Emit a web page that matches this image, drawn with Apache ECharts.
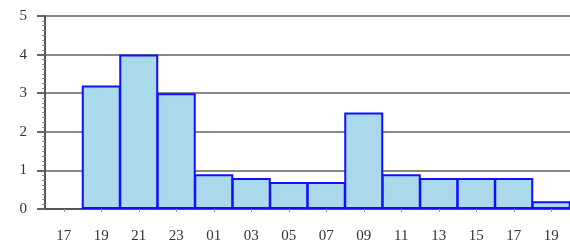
<!DOCTYPE html>
<html>
<head>
<meta charset="utf-8">
<style>
  html, body { margin: 0; padding: 0; background: #fff; }
  #chart { width: 570px; height: 247px; }
</style>
<script src="https://cdn.jsdelivr.net/npm/echarts@6/dist/echarts.min.js"></script>
</head>
<body>
<div id="chart"></div>
<script>
// hours (x axis)
const hours = ['17', '19', '21', '23', '01', '03', '05', '07', '09', '11', '13', '15', '17', '19']
// bar values
const counts = [0, 3.2, 4.0, 3.0, 0.9, 0.8, 0.7, 0.7, 2.5, 0.9, 0.8, 0.8, 0.8, 0.2]

const chart = echarts.init(document.getElementById('chart'))
const labelFont = { fontFamily: 'Liberation Serif', fontSize: 15, color: '#333' }

chart.setOption({
  animation: false,
  grid: { left: 45, top: 16, bottom: 38, width: 532 },
  xAxis: {
    type: 'category',
    data: hours,
    axisLine: { lineStyle: { color: '#555', width: 2 } },
    axisTick: { show: true, alignWithLabel: true, length: 3, lineStyle: { color: '#999' } },
    axisLabel: { ...labelFont, margin: 20 }
  },
  yAxis: {
    type: 'value',
    min: 0,
    max: 5,
    interval: 1,
    axisLine: { show: true, lineStyle: { color: '#555', width: 2 } },
    axisTick: { show: true, length: 8, lineStyle: { color: '#666', width: 2 } },
    minorTick: { show: true, splitNumber: 8, length: 3, lineStyle: { color: '#888' } },
    axisLabel: { ...labelFont, margin: 18 },
    splitLine: { lineStyle: { color: '#888', width: 2 } }
  },
  series: [{
    type: 'bar',
    // a zero count draws no bar
    data: counts.map(v => (v === 0 ? null : v)),
    barWidth: 39, // a touch wider than the band so neighbours share one edge
    itemStyle: { color: '#a9d9ea', borderColor: '#1010ff', borderWidth: 2 }
  }]
})
</script>
</body>
</html>
